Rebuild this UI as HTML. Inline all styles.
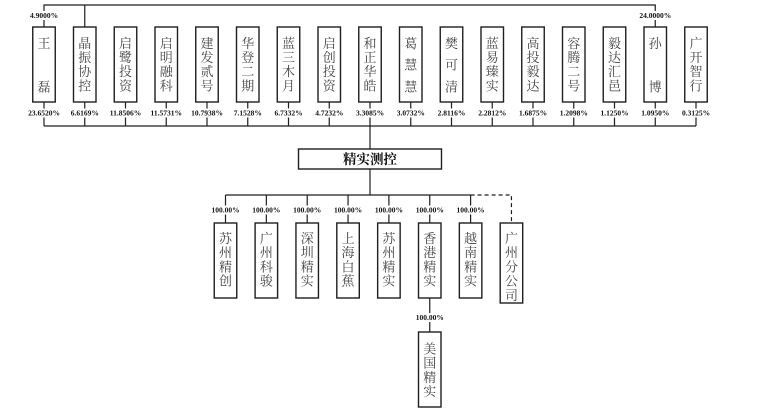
<!DOCTYPE html>
<html><head><meta charset="utf-8"><style>
html,body{margin:0;padding:0;background:#fff;width:760px;height:414px;overflow:hidden}
svg{display:block}
.ln{stroke:#1e1e1e;stroke-width:1.2;fill:none}
.bx{stroke:#1e1e1e;stroke-width:1.4;fill:#fff}
.v{font-family:"Liberation Serif","Noto Serif CJK SC",serif;font-size:13px;fill:#444;text-anchor:middle;dominant-baseline:central}
.p{font-family:"Liberation Serif",serif;font-size:7.5px;font-weight:bold;fill:#111;text-anchor:middle;dominant-baseline:central}
.wb{fill:#fff}
</style></head><body>
<svg width="760" height="414" viewBox="0 0 760 414" xmlns="http://www.w3.org/2000/svg">
<!-- top connectors -->
<path class="ln" d="M44 27V5H655.25V27M84.75 5V27"/>
<rect class="wb" x="29" y="11" width="30" height="9"/>
<text class="p" x="44" y="15.3">4.9000%</text>
<rect class="wb" x="638" y="11" width="34" height="9"/>
<text class="p" x="655.25" y="15.5">24.0000%</text>

<!-- bottom connectors from shareholders -->
<path class="ln" d="M44 102V126M84.75 102V126M125.5 102V126M166.25 102V126M207 102V126M247.75 102V126M288.5 102V126M329.25 102V126M370 102V126M410.75 102V126M451.5 102V126M492.25 102V126M533 102V126M573.75 102V126M614.5 102V126M655.25 102V126M696 102V126M44 126H696M370 126V149"/>

<!-- percent labels -->
<g>
<rect class="wb" x="27" y="108.5" width="34" height="9"/><text class="p" x="44" y="113">23.6520%</text>
<rect class="wb" x="69" y="108.5" width="32" height="9"/><text class="p" x="84.75" y="113">6.6169%</text>
<rect class="wb" x="108" y="108.5" width="35" height="9"/><text class="p" x="125.5" y="113">11.8506%</text>
<rect class="wb" x="149" y="108.5" width="35" height="9"/><text class="p" x="166.25" y="113">11.5731%</text>
<rect class="wb" x="190" y="108.5" width="35" height="9"/><text class="p" x="207" y="113">10.7938%</text>
<rect class="wb" x="232" y="108.5" width="32" height="9"/><text class="p" x="247.75" y="113">7.1528%</text>
<rect class="wb" x="273" y="108.5" width="32" height="9"/><text class="p" x="288.5" y="113">6.7332%</text>
<rect class="wb" x="313" y="108.5" width="32" height="9"/><text class="p" x="329.25" y="113">4.7232%</text>
<rect class="wb" x="354" y="108.5" width="32" height="9"/><text class="p" x="370" y="113">3.3085%</text>
<rect class="wb" x="395" y="108.5" width="32" height="9"/><text class="p" x="410.75" y="113">3.0732%</text>
<rect class="wb" x="436" y="108.5" width="32" height="9"/><text class="p" x="451.5" y="113">2.8116%</text>
<rect class="wb" x="476" y="108.5" width="32" height="9"/><text class="p" x="492.25" y="113">2.2812%</text>
<rect class="wb" x="517" y="108.5" width="32" height="9"/><text class="p" x="533" y="113">1.6875%</text>
<rect class="wb" x="558" y="108.5" width="32" height="9"/><text class="p" x="573.75" y="113">1.2098%</text>
<rect class="wb" x="598" y="108.5" width="32" height="9"/><text class="p" x="614.5" y="113">1.1250%</text>
<rect class="wb" x="639" y="108.5" width="32" height="9"/><text class="p" x="655.25" y="113">1.0950%</text>
<rect class="wb" x="680" y="108.5" width="32" height="9"/><text class="p" x="696" y="113">0.3125%</text>
</g>

<!-- shareholder boxes -->
<g>
<rect class="bx" x="32.75" y="27" width="22.5" height="75"/>
<rect class="bx" x="73.5" y="27" width="22.5" height="75"/>
<rect class="bx" x="114.25" y="27" width="22.5" height="75"/>
<rect class="bx" x="155" y="27" width="22.5" height="75"/>
<rect class="bx" x="195.75" y="27" width="22.5" height="75"/>
<rect class="bx" x="236.5" y="27" width="22.5" height="75"/>
<rect class="bx" x="277.25" y="27" width="22.5" height="75"/>
<rect class="bx" x="318" y="27" width="22.5" height="75"/>
<rect class="bx" x="358.75" y="27" width="22.5" height="75"/>
<rect class="bx" x="399.5" y="27" width="22.5" height="75"/>
<rect class="bx" x="440.25" y="27" width="22.5" height="75"/>
<rect class="bx" x="481" y="27" width="22.5" height="75"/>
<rect class="bx" x="521.75" y="27" width="22.5" height="75"/>
<rect class="bx" x="562.5" y="27" width="22.5" height="75"/>
<rect class="bx" x="603.25" y="27" width="22.5" height="75"/>
<rect class="bx" x="644" y="27" width="22.5" height="75"/>
<rect class="bx" x="684.75" y="27" width="22.5" height="75"/>
</g>
<g>
<text class="v"><tspan x="44" y="42.8">王</tspan><tspan x="44" y="86.6">磊</tspan></text>
<text class="v"><tspan x="84.75" y="42.8">晶</tspan><tspan x="84.75" y="57">振</tspan><tspan x="84.75" y="71.2">协</tspan><tspan x="84.75" y="85.4">控</tspan></text>
<text class="v"><tspan x="125.5" y="42.8">启</tspan><tspan x="125.5" y="57">鹭</tspan><tspan x="125.5" y="71.2">投</tspan><tspan x="125.5" y="85.4">资</tspan></text>
<text class="v"><tspan x="166.25" y="42.8">启</tspan><tspan x="166.25" y="57">明</tspan><tspan x="166.25" y="71.2">融</tspan><tspan x="166.25" y="85.4">科</tspan></text>
<text class="v"><tspan x="207" y="42.8">建</tspan><tspan x="207" y="57">发</tspan><tspan x="207" y="71.2">贰</tspan><tspan x="207" y="85.4">号</tspan></text>
<text class="v"><tspan x="247.75" y="42.8">华</tspan><tspan x="247.75" y="57">登</tspan><tspan x="247.75" y="71.2">二</tspan><tspan x="247.75" y="85.4">期</tspan></text>
<text class="v"><tspan x="288.5" y="42.8">蓝</tspan><tspan x="288.5" y="57">三</tspan><tspan x="288.5" y="71.2">木</tspan><tspan x="288.5" y="85.4">月</tspan></text>
<text class="v"><tspan x="329.25" y="42.8">启</tspan><tspan x="329.25" y="57">创</tspan><tspan x="329.25" y="71.2">投</tspan><tspan x="329.25" y="85.4">资</tspan></text>
<text class="v"><tspan x="370" y="42.8">和</tspan><tspan x="370" y="57">正</tspan><tspan x="370" y="71.2">华</tspan><tspan x="370" y="85.4">皓</tspan></text>
<text class="v"><tspan x="410.75" y="42.8">葛</tspan><tspan x="410.75" y="64.7">慧</tspan><tspan x="410.75" y="86.6">慧</tspan></text>
<text class="v"><tspan x="451.5" y="42.8">樊</tspan><tspan x="451.5" y="64.7">可</tspan><tspan x="451.5" y="86.6">清</tspan></text>
<text class="v"><tspan x="492.25" y="42.8">蓝</tspan><tspan x="492.25" y="57">易</tspan><tspan x="492.25" y="71.2">臻</tspan><tspan x="492.25" y="85.4">实</tspan></text>
<text class="v"><tspan x="533" y="42.8">高</tspan><tspan x="533" y="57">投</tspan><tspan x="533" y="71.2">毅</tspan><tspan x="533" y="85.4">达</tspan></text>
<text class="v"><tspan x="573.75" y="42.8">容</tspan><tspan x="573.75" y="57">腾</tspan><tspan x="573.75" y="71.2">二</tspan><tspan x="573.75" y="85.4">号</tspan></text>
<text class="v"><tspan x="614.5" y="42.8">毅</tspan><tspan x="614.5" y="57">达</tspan><tspan x="614.5" y="71.2">汇</tspan><tspan x="614.5" y="85.4">邑</tspan></text>
<text class="v"><tspan x="655.25" y="42.8">孙</tspan><tspan x="655.25" y="86.6">博</tspan></text>
<text class="v"><tspan x="696" y="42.8">广</tspan><tspan x="696" y="57">开</tspan><tspan x="696" y="71.2">智</tspan><tspan x="696" y="85.4">行</tspan></text>
</g>

<!-- center company -->
<rect class="bx" x="298.5" y="149" width="143" height="20"/>
<text x="370" y="159.5" style="font-family:'Liberation Serif','Noto Serif CJK SC',serif;font-size:13.5px;font-weight:bold;fill:#111;text-anchor:middle;dominant-baseline:central">精实测控</text>

<!-- subsidiary connectors -->
<path class="ln" d="M370 169V195M225.5 195H470.6M225.5 195V223M266.35 195V223M307.2 195V223M348.05 195V223M388.9 195V223M429.75 195V223M470.6 195V223M429.75 298V332"/>
<path class="ln" stroke-dasharray="4,3" d="M470.6 195H511.45V223"/>
<g>
<rect class="wb" x="210" y="205.5" width="31" height="9"/><text class="p" x="225.5" y="210">100.00%</text>
<rect class="wb" x="251" y="205.5" width="31" height="9"/><text class="p" x="266.35" y="210">100.00%</text>
<rect class="wb" x="292" y="205.5" width="31" height="9"/><text class="p" x="307.2" y="210">100.00%</text>
<rect class="wb" x="333" y="205.5" width="31" height="9"/><text class="p" x="348.05" y="210">100.00%</text>
<rect class="wb" x="373" y="205.5" width="31" height="9"/><text class="p" x="388.9" y="210">100.00%</text>
<rect class="wb" x="414" y="205.5" width="31" height="9"/><text class="p" x="429.75" y="210">100.00%</text>
<rect class="wb" x="455" y="205.5" width="31" height="9"/><text class="p" x="470.6" y="210">100.00%</text>
<rect class="wb" x="414" y="313" width="31" height="9"/><text class="p" x="429.75" y="317.5">100.00%</text>
</g>

<!-- subsidiary boxes -->
<g>
<rect class="bx" x="214.25" y="223" width="22.5" height="75"/>
<rect class="bx" x="255.1" y="223" width="22.5" height="75"/>
<rect class="bx" x="295.95" y="223" width="22.5" height="75"/>
<rect class="bx" x="336.8" y="223" width="22.5" height="75"/>
<rect class="bx" x="377.65" y="223" width="22.5" height="75"/>
<rect class="bx" x="418.5" y="223" width="22.5" height="75"/>
<rect class="bx" x="459.35" y="223" width="22.5" height="75"/>
<rect class="bx" x="500.2" y="223" width="22.5" height="80"/>
<rect class="bx" x="418.5" y="332" width="22.5" height="75"/>
</g>
<g>
<text class="v"><tspan x="225.5" y="238">苏</tspan><tspan x="225.5" y="252.2">州</tspan><tspan x="225.5" y="266.4">精</tspan><tspan x="225.5" y="280.6">创</tspan></text>
<text class="v"><tspan x="266.35" y="238">广</tspan><tspan x="266.35" y="252.2">州</tspan><tspan x="266.35" y="266.4">科</tspan><tspan x="266.35" y="280.6">骏</tspan></text>
<text class="v"><tspan x="307.2" y="238">深</tspan><tspan x="307.2" y="252.2">圳</tspan><tspan x="307.2" y="266.4">精</tspan><tspan x="307.2" y="280.6">实</tspan></text>
<text class="v"><tspan x="348.05" y="238">上</tspan><tspan x="348.05" y="252.2">海</tspan><tspan x="348.05" y="266.4">白</tspan><tspan x="348.05" y="280.6">蕉</tspan></text>
<text class="v"><tspan x="388.9" y="238">苏</tspan><tspan x="388.9" y="252.2">州</tspan><tspan x="388.9" y="266.4">精</tspan><tspan x="388.9" y="280.6">实</tspan></text>
<text class="v"><tspan x="429.75" y="238">香</tspan><tspan x="429.75" y="252.2">港</tspan><tspan x="429.75" y="266.4">精</tspan><tspan x="429.75" y="280.6">实</tspan></text>
<text class="v"><tspan x="470.6" y="238">越</tspan><tspan x="470.6" y="252.2">南</tspan><tspan x="470.6" y="266.4">精</tspan><tspan x="470.6" y="280.6">实</tspan></text>
<text class="v"><tspan x="511.45" y="238">广</tspan><tspan x="511.45" y="252.2">州</tspan><tspan x="511.45" y="266.4">分</tspan><tspan x="511.45" y="280.6">公</tspan><tspan x="511.45" y="294.8">司</tspan></text>
<text class="v"><tspan x="429.75" y="348.5">美</tspan><tspan x="429.75" y="362.7">国</tspan><tspan x="429.75" y="376.9">精</tspan><tspan x="429.75" y="391.1">实</tspan></text>
</g>
</svg>
</body></html>
